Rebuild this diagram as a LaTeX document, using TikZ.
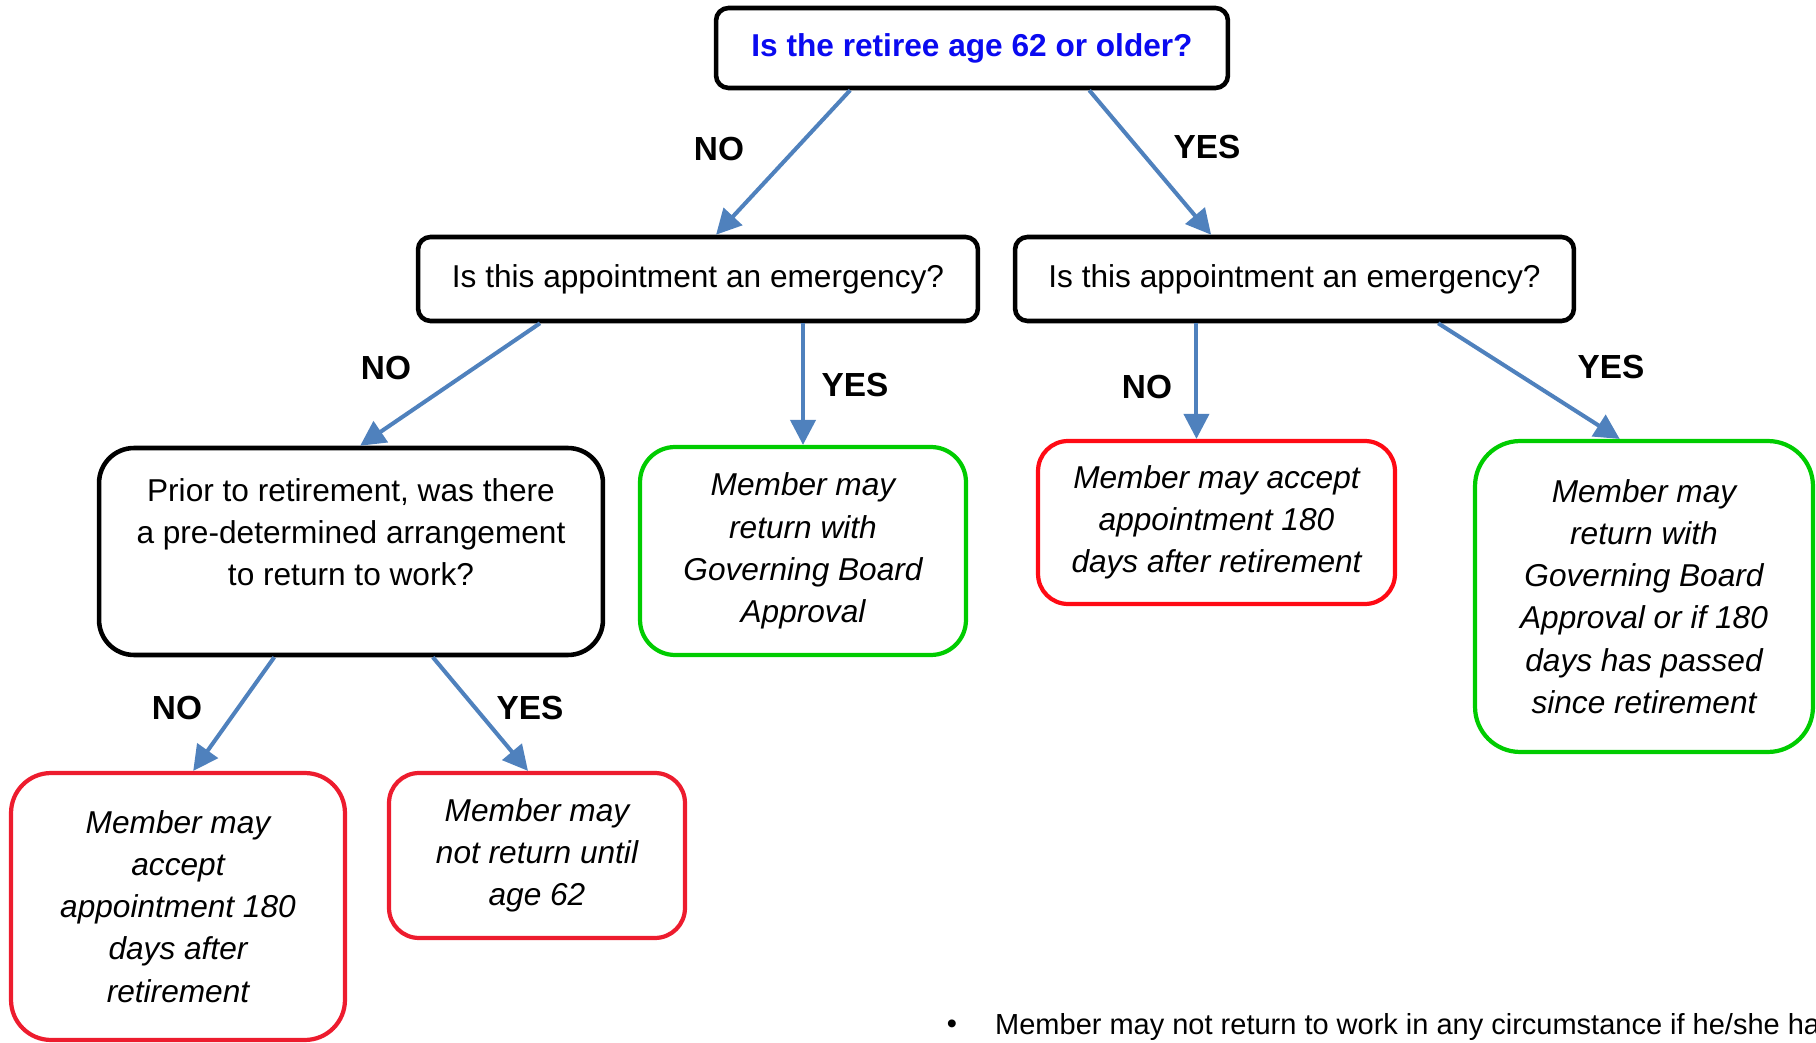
\documentclass[tikz,border=0pt]{standalone}
\usepackage{fontspec}
\setmainfont{Liberation Sans}
\usetikzlibrary{arrows.meta,calc}

\definecolor{flowblue}{RGB}{79,129,189}
\definecolor{askblue}{RGB}{10,10,240}
\definecolor{okgreen}{RGB}{0,204,0}
\definecolor{stopred}{RGB}{255,10,20}
\definecolor{waitred}{RGB}{237,28,46}

\begin{document}
\begin{tikzpicture}[x=0.02cm, y=-0.02cm,
    question/.style={draw, line width=2.6pt, rounded corners=0.25cm, inner sep=0pt,
        align=center, font=\fontsize{18}{24}\selectfont},
    outcome/.style={line width=2.4pt, rounded corners=0.7cm, inner sep=0pt,
        align=center, font=\fontsize{18}{24}\selectfont\itshape},
    approve/.style={outcome, draw=okgreen},
    refuse/.style={outcome, draw=waitred},
    answer/.style={font=\fontsize{19}{22}\selectfont\bfseries},
    flow/.style={draw=flowblue, line width=2.3pt, -{Triangle[length=0.5cm,width=0.5cm]}}]

	\useasboundingbox (0,0) rectangle (1816,1043);
	\clip (0,0) rectangle (1816,1043);

	% first question
	\node[question, minimum width=10.24cm, minimum height=1.6cm, text=askblue,
	      font=\fontsize{18}{24}\selectfont\bfseries] (age) at (972,48) {Is the retiree age 62 or older?};

	% emergency questions
	\node[question, minimum width=11.2cm, minimum height=1.68cm] (emergNo) at (698,279) {Is this appointment an emergency?};
	\node[question, minimum width=11.18cm, minimum height=1.68cm] (emergYes) at (1294.5,279) {Is this appointment an emergency?};

	\node[question, rounded corners=0.7cm, minimum width=10.08cm, minimum height=4.14cm] (prior) at (351,551.5)
	     {Prior to retirement, was there\\a pre-determined arrangement\\to return to work?\\[-2pt]\mbox{}};

	% outcomes
	\node[approve, minimum width=6.52cm, minimum height=4.16cm] (boardOk) at (803,551)
	     {Member may\\return with\\Governing Board\\Approval};
	\node[outcome, draw=stopred, rounded corners=0.6cm, minimum width=7.14cm, minimum height=3.26cm] (wait180) at (1216.5,522.5)
	     {Member may accept\\appointment 180\\days after retirement};
	\node[approve, rounded corners=0.9cm, minimum width=6.76cm, minimum height=6.22cm] (boardOr180) at (1644,596.5)
	     {Member may\\return with\\Governing Board\\Approval or if 180\\days has passed\\since retirement};
	\node[refuse, rounded corners=0.8cm, minimum width=6.68cm, minimum height=5.34cm] (accept180) at (178,906.5)
	     {Member may\\accept\\appointment 180\\days after\\retirement};
	\node[refuse, rounded corners=0.6cm, minimum width=5.92cm, minimum height=3.3cm] (until62) at (537,855.5)
	     {Member may\\not return until\\age 62};

	% arrows
	\draw[flow] ($(age.south west)!.264!(age.south east)$) -- ($(emergNo.north west)!.532!(emergNo.north east)$);
	\draw[flow] ($(age.south west)!.727!(age.south east)$) -- ($(emergYes.north west)!.352!(emergYes.north east)$);
	\draw[flow] ($(emergNo.south west)!.22!(emergNo.south east)$) -- ($(prior.north west)!.518!(prior.north east)$);
	\draw[flow] (boardOk.north |- emergNo.south) -- (boardOk.north);
	\draw[flow] ($(emergYes.south west)!.326!(emergYes.south east)$) coordinate (noOld)
	    -- (noOld |- wait180.north);
	\draw[flow] ($(emergYes.south west)!.755!(emergYes.south east)$) -- ($(boardOr180.north west)!.429!(boardOr180.north east)$);
	\draw[flow] ($(prior.south west)!.349!(prior.south east)$) -- ($(accept180.north west)!.545!(accept180.north east)$);
	\draw[flow] ($(prior.south west)!.661!(prior.south east)$) -- ($(until62.north west)!.47!(until62.north east)$);

	% answers
	\node[answer] (noAge) at (719,149) {NO};
	\node[answer] (yesAge) at (1207,147) {YES};
	\node[answer] (noEmerg) at (386,368) {NO};
	\node[answer] (yesEmerg) at (855,385) {YES};
	\node[answer] (noEmergOld) at (1147,387) {NO};
	\node[answer] (yesEmergOld) at (1611,367) {YES};
	\node[answer] (noPrior) at (177,708) {NO};
	\node[answer] (yesPrior) at (530,708) {YES};

	% note at the foot
	\node[font=\fontsize{16.5}{20}\selectfont] (dot) at (952,1027) {•};
	\node[font=\fontsize{16.5}{20}\selectfont, anchor=west] (note) at (989,1027)
	     {Member may not return to work in any circumstance if he/she has};
\end{tikzpicture}
\end{document}
